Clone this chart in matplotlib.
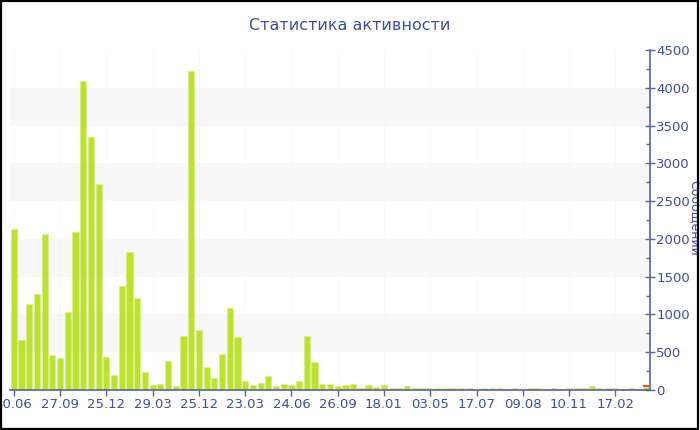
import matplotlib
matplotlib.use("Agg")
import matplotlib.pyplot as plt
from matplotlib.patches import Rectangle
from matplotlib.ticker import MultipleLocator

title = "Статистика активности"
ylabel = "Сообщений"
tick_labels = ['30.06', '27.09', '25.12', '29.03', '25.12', '23.03', '24.06',
               '26.09', '18.01', '03.05', '17.07', '09.08', '10.11', '17.02']

messages = [2127, 666, 1142, 1266, 2069, 468, 428, 1028, 2091, 4090,
            3353, 2726, 432, 203, 1376, 1826, 1222, 234, 62, 75,
            379, 49, 710, 4222, 798, 300, 154, 472, 1081, 702,
            115, 66, 97, 181, 57, 84, 62, 123, 719, 366,
            84, 84, 57, 66, 79, 31, 66, 40, 62, 31,
            31, 57, 31, 31, 26, 26, 22, 24, 20, 20,
            15, 20, 26, 20, 18, 20, 15, 20, 22, 18,
            20, 15, 20, 22, 20, 50, 26, 20, 26, 13,
            26, 18, 40]
extra = [0] * 82 + [26]

GREEN = '#bce22f'
RED = '#e8562a'
BLUE = '#3d4f9a'
AXC = '#5563a0'

fig = plt.figure(figsize=(7, 4.3), dpi=100)
ax = fig.add_axes([10 / 700, 40 / 430, 640 / 700, 340 / 430])

n = len(messages)
x = list(range(n))
ax.set_xlim(-0.5, n - 0.5)
ax.set_ylim(0, 4500)

for lo in (500, 1500, 2500, 3500):
    ax.axhspan(lo, lo + 500, color='#f7f7f7', zorder=0, lw=0)

tick_pos = list(range(0, n, 6))[:len(tick_labels)]
for tp in tick_pos:
    ax.axvline(tp, color='#f5f5f5', lw=0.5, zorder=0.5)

ax.bar(x, messages, width=0.8, color=GREEN, edgecolor='#d6ee8a', linewidth=0.4, zorder=2)
ax.bar(x, extra, bottom=messages, width=0.8, color=RED, linewidth=0, zorder=2)

ax.yaxis.tick_right()
ax.yaxis.set_major_locator(MultipleLocator(500))
ax.yaxis.set_minor_locator(MultipleLocator(250))
ax.tick_params(axis='y', which='major', direction='inout', length=7, width=1,
               colors=AXC, labelcolor=BLUE, labelsize=9.5, pad=1)
ax.tick_params(axis='y', which='minor', direction='in', length=3, width=1, colors=AXC)
ax.set_xticks(tick_pos)
ax.set_xticklabels(tick_labels)
ax.tick_params(axis='x', direction='out', length=4, width=1, colors=AXC,
               labelcolor=BLUE, labelsize=9.5, pad=2)

for s in ('top', 'left'):
    ax.spines[s].set_visible(False)
ax.spines['right'].set_color(AXC)
ax.spines['bottom'].set_color(AXC)
ax.spines['right'].set_linewidth(1.2)
ax.spines['bottom'].set_linewidth(1.2)

fig.text(350 / 700, 1 - 25 / 430, title, ha='center', va='center',
         fontsize=11.5, color=BLUE)
fig.text(694 / 700, 1 - 218 / 430, ylabel, ha='center', va='center',
         rotation=270, fontsize=9, color=BLUE)

fig.patches.append(Rectangle((0.001, 0.002), 0.996, 0.996, transform=fig.transFigure,
                             fill=False, edgecolor='black', linewidth=1.6, zorder=10))

fig.savefig('out.png', dpi=100)
